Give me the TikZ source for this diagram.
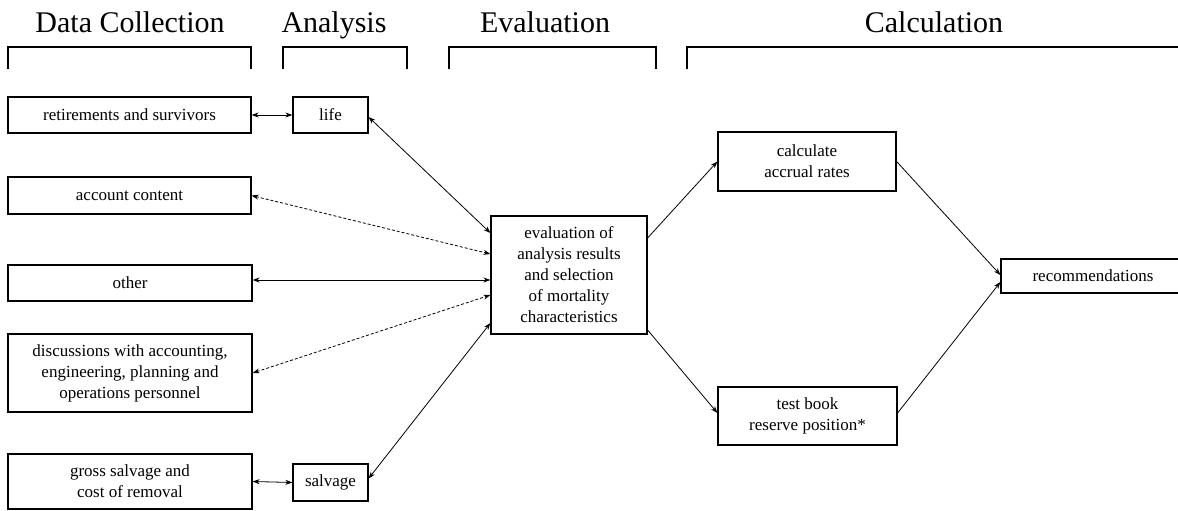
\documentclass[tikz,border=0pt]{standalone}
\usepackage{fontspec}
\setmainfont{Liberation Serif}
\newfontfamily\tms{Liberation Serif}
\usetikzlibrary{arrows.meta}
\tikzset{
  box/.style={draw, line width=1.2pt, rectangle, align=center, inner sep=2pt,
    font=\tms\fontsize{17}{21}\selectfont},
  head/.style={anchor=base, inner sep=0pt, font=\tms\fontsize{30}{34}\selectfont},
  bracket/.style={line width=1.2pt},
  link/.style={line width=0.8pt, {Stealth[length=7pt,width=5pt]}-{Stealth[length=7pt,width=5pt]}},
  dlink/.style={link, dash pattern=on 3pt off 2pt},
  flow/.style={line width=0.8pt, -{Stealth[length=7pt,width=5pt]}}
}
\begin{document}
\begin{tikzpicture}[x=1pt, y=-1pt]
\useasboundingbox (0,0) rectangle (1178,511);
\fill[white] (0,0) rectangle (1178,511);

% headers
\node[head] (hdc) at (130,33) {Data Collection};
\node[head] (han) at (334,33) {Analysis};
\node[head] (hev) at (545,33) {Evaluation};
\node[head] (hca) at (934,33) {Calculation};

% brackets
\draw[bracket] (8,69) |- (251,47) -- (251,69);
\draw[bracket] (283,69) |- (407,47) -- (407,69);
\draw[bracket] (449,69) |- (656,47) -- (656,69);
\draw[bracket] (687,69) |- (1190,47);

% data collection boxes
\node[box, minimum width=243pt, minimum height=36pt] (ret) at (129.5,115) {retirements and survivors};
\node[box, minimum width=243pt, minimum height=37pt] (acc) at (129.5,195.5) {account content};
\node[box, minimum width=244pt, minimum height=36pt] (oth) at (130,283) {other};
\node[box, minimum width=244pt, minimum height=78pt] (dis) at (130,373) {discussions with accounting,\\engineering, planning and\\operations personnel};
\node[box, minimum width=244pt, minimum height=55pt] (gro) at (130,481.5) {gross salvage and\\cost of removal};

% analysis boxes
\node[box, minimum width=75pt, minimum height=36pt] (life) at (330.5,115) {life};
\node[box, minimum width=75pt, minimum height=37pt] (salv) at (330.5,482.5) {salvage};

% evaluation
\node[box, minimum width=156pt, minimum height=118pt] (eval) at (569,275) {evaluation of\\analysis results\\and selection\\of mortality\\characteristics};

% calculation
\node[box, minimum width=178pt, minimum height=59pt] (calc) at (807,161.5) {calculate\\accrual rates};
\node[box, minimum width=179pt, minimum height=58pt] (test) at (807.5,416) {test book\\reserve position*};
\node[box, minimum width=184pt, minimum height=34pt] (rec) at (1093,276) {recommendations};

% connectors left
\draw[link] (ret.east) -- (life.west);
\draw[link] (gro.east) -- (salv.west);
\draw[link] ([yshift=-2pt]life.east) -- ([yshift=42pt]eval.west);
\draw[dlink] (acc.east) -- ([yshift=21pt]eval.west);
\draw[link] ([yshift=3pt]oth.east) -- ([yshift=-5pt]eval.west);
\draw[dlink] (dis.east) -- ([yshift=-20pt]eval.west);
\draw[link] ([yshift=4pt]salv.east) -- ([yshift=-48pt]eval.west);

% connectors right
\draw[flow] ([yshift=37pt]eval.east) -- (calc.west);
\draw[flow] ([yshift=-55pt]eval.east) -- ([yshift=3pt]test.west);
\draw[flow] (calc.east) -- ([yshift=1pt]rec.west);
\draw[flow] ([yshift=3pt]test.east) -- ([yshift=-6pt]rec.west);
\end{tikzpicture}
\end{document}
